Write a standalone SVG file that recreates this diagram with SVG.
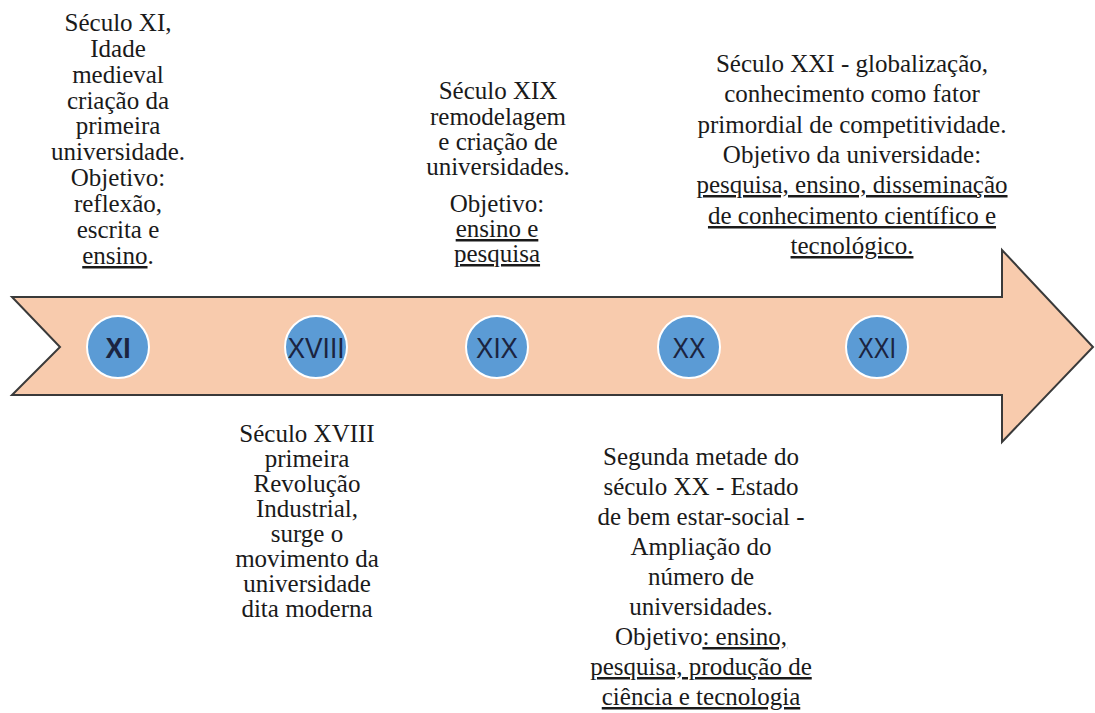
<svg xmlns="http://www.w3.org/2000/svg" width="1095" height="713" viewBox="0 0 1095 713">
<style>
.t{font-size:25px;fill:#1a1a1a;text-anchor:middle}
.u{text-decoration:underline}
.c{fill:#5B9BD5;stroke:#ffffff;stroke-width:2}
.n{font-family:"Liberation Sans",Arial,sans-serif;font-size:29px;fill:#1B2440;text-anchor:middle}
</style>
<rect width="1095" height="713" fill="#ffffff"/>
<g id="arrow">
<path d="M12,297 L1002,297 L1002,250 L1093,347 L1002,442 L1002,395 L12,395 L60,347 Z" fill="#F8CBAD" stroke="#3a3a3a" stroke-width="2" stroke-linejoin="miter"/>
</g>
<g id="connectors"></g>
<g id="node-xi">
<circle class="c" cx="118" cy="347" r="31"/>
<text class="n" x="118" y="358" font-weight="bold" textLength="25" lengthAdjust="spacingAndGlyphs">XI</text>
</g>
<g id="node-xviii">
<circle class="c" cx="316" cy="347" r="31"/>
<text class="n" x="316" y="358" textLength="57" lengthAdjust="spacingAndGlyphs">XVIII</text>
</g>
<g id="node-xix">
<circle class="c" cx="497" cy="347" r="31"/>
<text class="n" x="497" y="358" textLength="42" lengthAdjust="spacingAndGlyphs">XIX</text>
</g>
<g id="node-xx">
<circle class="c" cx="689" cy="347" r="31"/>
<text class="n" x="689" y="358" textLength="33" lengthAdjust="spacingAndGlyphs">XX</text>
</g>
<g id="node-xxi">
<circle class="c" cx="877" cy="347" r="31"/>
<text class="n" x="877" y="358" textLength="38" lengthAdjust="spacingAndGlyphs">XXI</text>
</g>
<g id="label-xi" font-family="Liberation Serif, DejaVu Serif, serif">
<text class="t" x="118" y="31">Século XI,</text>
<text class="t" x="118" y="57">Idade</text>
<text class="t" x="118" y="83">medieval</text>
<text class="t" x="118" y="109">criação da</text>
<text class="t" x="118" y="134">primeira</text>
<text class="t" x="118" y="160">universidade.</text>
<text class="t" x="118" y="186">Objetivo:</text>
<text class="t" x="118" y="212">reflexão,</text>
<text class="t" x="118" y="238">escrita e</text>
<text class="t" x="118" y="264"><tspan class="u">ensino</tspan>.</text>
</g>
<g id="label-xix" font-family="Liberation Serif, DejaVu Serif, serif">
<text class="t" x="498" y="99">Século XIX</text>
<text class="t" x="498" y="125">remodelagem</text>
<text class="t" x="498" y="150">e criação de</text>
<text class="t" x="498" y="175">universidades.</text>
<text class="t" x="497" y="212">Objetivo:</text>
<text class="t u" x="497" y="237">ensino e</text>
<text class="t u" x="497" y="262">pesquisa</text>
</g>
<g id="label-xxi" font-family="Liberation Serif, DejaVu Serif, serif">
<text class="t" x="852" y="72">Século XXI - globalização,</text>
<text class="t" x="852" y="102">conhecimento como fator</text>
<text class="t" x="852" y="133">primordial de competitividade.</text>
<text class="t" x="852" y="163">Objetivo da universidade:</text>
<text class="t u" x="852" y="193">pesquisa, ensino, disseminação</text>
<text class="t u" x="852" y="224">de conhecimento científico e</text>
<text class="t u" x="852" y="254">tecnológico.</text>
</g>
<g id="label-xviii" font-family="Liberation Serif, DejaVu Serif, serif">
<text class="t" x="307" y="442">Século XVIII</text>
<text class="t" x="307" y="467">primeira</text>
<text class="t" x="307" y="492">Revolução</text>
<text class="t" x="307" y="517">Industrial,</text>
<text class="t" x="307" y="542">surge o</text>
<text class="t" x="307" y="567">movimento da</text>
<text class="t" x="307" y="592">universidade</text>
<text class="t" x="307" y="617">dita moderna</text>
</g>
<g id="label-xx" font-family="Liberation Serif, DejaVu Serif, serif">
<text class="t" x="701" y="465">Segunda metade do</text>
<text class="t" x="701" y="495">século XX - Estado</text>
<text class="t" x="701" y="525">de bem estar-social -</text>
<text class="t" x="701" y="555">Ampliação do</text>
<text class="t" x="701" y="585">número de</text>
<text class="t" x="701" y="615">universidades.</text>
<text class="t" x="701" y="645">Objetivo<tspan class="u">: ensino,</tspan></text>
<text class="t u" x="701" y="675">pesquisa, produção de</text>
<text class="t u" x="701" y="705">ciência e tecnologia</text>
</g>
</svg>
